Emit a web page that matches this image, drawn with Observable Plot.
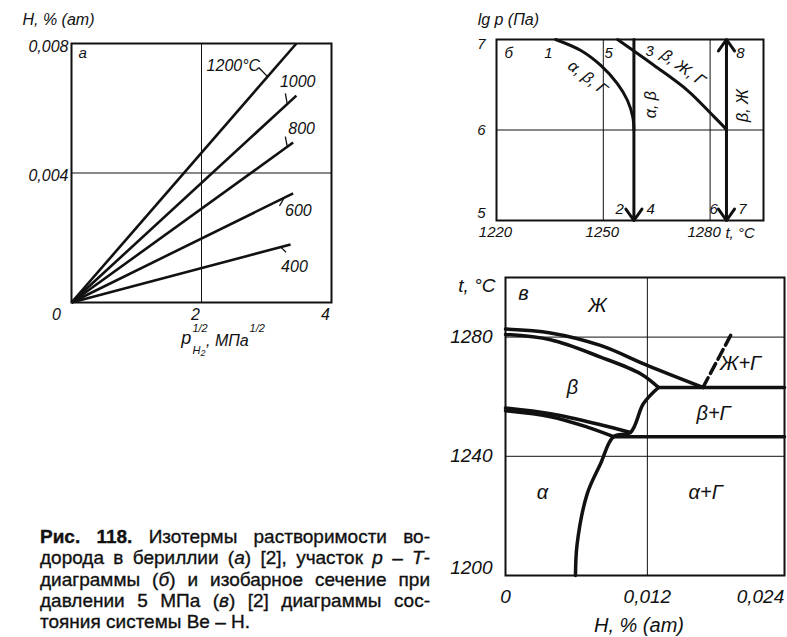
<!DOCTYPE html>
<html lang="ru">
<head>
<meta charset="utf-8">
<script src="https://cdn.jsdelivr.net/npm/d3@7"></script>
<script src="https://cdn.jsdelivr.net/npm/@observablehq/plot@0.6"></script>
<style>
html,body{margin:0;padding:0;background:#fff;}
#page{position:relative;width:787px;height:637px;overflow:hidden;background:#fff;}
.panel{position:absolute;}
.panel svg{overflow:visible;display:block;}
#caption{position:absolute;left:40px;top:526px;width:390px;font-family:"Liberation Sans",Arial,Helvetica,sans-serif;font-size:19px;line-height:21.3px;color:#111;-webkit-text-stroke:0.35px #111;}
#caption .j{text-align:justify;text-align-last:justify;white-space:nowrap;}
#caption b{font-weight:bold;}
</style>
</head>
<body>
<div id="page">
  <div class="panel" id="pa" style="left:0;top:0;"></div>
  <div class="panel" id="pb" style="left:420px;top:0;"></div>
  <div class="panel" id="pc" style="left:420px;top:250px;"></div>
  <div id="caption">
    <div class="j"><b>Рис. 118.</b> Изотермы растворимости во-</div>
    <div class="j">дорода в бериллии (<i>а</i>) [2], участок <i>р</i> – <i>Т</i>-</div>
    <div class="j">диаграммы (<i>б</i>) и изобарное сечение при</div>
    <div class="j">давлении 5 МПа (<i>в</i>) [2] диаграммы сос-</div>
    <div>тояния системы Be – H.</div>
  </div>
</div>
<script>
// ---------- Panel а: solubility isotherms ----------
const isoLabels = ["1200°C", "1000", "800", "600", "400"];
const isoEndX   = [3.46, 3.46, 3.41, 3.41, 3.37];          // p^1/2, MPa^1/2
const isoEndH   = [0.0080, 0.00639, 0.00494, 0.00337, 0.00179]; // H, % (at)
const aXTicks = [2, 4];
const aYTicks = [0.004, 0.008];

// ---------- Panel б: p–T diagram ----------
const bCurve1T = [1236.6, 1243.7, 1249.3, 1254.0, 1256.8, 1258.3, 1258.6];
const bCurve1P = [7.0, 6.878, 6.713, 6.51, 6.326, 6.141, 6.0];
const bCurve3T = [1254.0, 1264.3, 1273.7, 1280.3, 1284.0, 1284.6];
const bCurve3P = [7.0, 6.713, 6.436, 6.179, 6.03, 6.0];
const bVertT = [1258.6, 1284.6];
const bXTicks = [1220, 1250, 1280];
const bYTicks = [7, 6, 5];
const bPointNums = ["1", "5", "3", "8", "2", "4", "6", "7"];

// ---------- Panel в: isobaric section at 5 MPa ----------
const cL1H = [0, 0.00381, 0.00803, 0.01199, 0.0167];
const cL1T = [1282.7, 1281.4, 1277.2, 1270.5, 1263.1];
const cL2H = [0, 0.00381, 0.00804, 0.01142, 0.01294];
const cL2T = [1280.9, 1279.1, 1273.3, 1267.7, 1263.1];
const cM1H = [0, 0.00381, 0.00804, 0.01057];
const cM1T = [1256.2, 1254.3, 1250.6, 1248.0];
const cM2H = [0, 0.00381, 0.00692, 0.00914];
const cM2T = [1255.3, 1253.3, 1249.8, 1246.6];
const cSolvH = [0.00592, 0.00606, 0.00691, 0.00804, 0.00914, 0.01057, 0.01167, 0.01294];
const cSolvT = [1200, 1210.6, 1227.4, 1237.5, 1246.6, 1248.0, 1257.7, 1263.1];
const cUpperEutH = [0.01294, 0.0236]; const cUpperEutT = 1263.1;
const cLowerEutH = [0.00914, 0.0236]; const cLowerEutT = 1246.6;
const cDashH = [0.0167, 0.01918];
const cDashT = [1263.1, 1281.6];
const cXTicks = [0, 0.012, 0.024];
const cYTicks = [1280, 1240, 1200];
const cPhases = ["Ж", "β", "Ж+Г", "β+Г", "α", "α+Г"];

// ---------- helpers ----------
const INK = "#111";
const FONT = "'Liberation Sans', Arial, sans-serif";
const comma = d => String(d).replace(".", ",");
const plain = d => String(d);
const zip = (xs, ys) => xs.map((x, i) => [x, ys[i]]);
const st = size => ({fontFamily: FONT, fontStyle: "italic", fontSize: size + "px", background: "transparent", overflow: "visible", color: INK});

// ===== Panel а =====
const idx = d3.range(isoLabels.length);
const isoLabelPos = [[2.49, 0.00732], [3.48, 0.00683], [3.54, 0.00537], [3.49, 0.00284], [3.43, 0.00111]];
const isoLeaders = [[2.88, 0.00726, 3.02, 0.00697], [3.29, 0.00646, 3.32, 0.00613], [3.29, 0.00512, 3.32, 0.00481], [3.20, 0.00298, 3.27, 0.00323], [3.30, 0.00155, 3.22, 0.00171]];
const plotA = Plot.plot({
  width: 346, height: 360,
  marginLeft: 71, marginRight: 15, marginTop: 43, marginBottom: 58,
  x: {domain: [0, 4], label: null},
  y: {domain: [0, 0.008], label: null},
  style: st(16),
  marks: [
    Plot.ruleX([2], {stroke: INK, strokeWidth: 1}),
    Plot.ruleY([0.004], {stroke: INK, strokeWidth: 1}),
    Plot.frame({stroke: INK, strokeWidth: 2}),
    Plot.link(idx, {x1: 0, y1: 0, x2: i => isoEndX[i], y2: i => isoEndH[i], stroke: INK, strokeWidth: 2.6}),
    Plot.link(idx, {x1: i => isoLeaders[i][0], y1: i => isoLeaders[i][1], x2: i => isoLeaders[i][2], y2: i => isoLeaders[i][3], stroke: INK, strokeWidth: 1.3}),
    Plot.text(idx, {x: i => isoLabelPos[i][0], y: i => isoLabelPos[i][1], text: i => isoLabels[i], fill: INK}),
    Plot.text(["а"], {x: 0.17, y: 0.00769, text: d => d, fill: INK, fontSize: 15}),
    Plot.axisY(aYTicks, {tickSize: 0, tickPadding: 3, dy: 3, tickFormat: comma, label: null}),
    Plot.axisX([0], {tickSize: 0, tickPadding: 6, dx: -15, tickFormat: comma, label: null}),
    Plot.axisX(aXTicks, {tickSize: 0, tickPadding: 6, dx: -6, tickFormat: comma, label: null}),
    // axis titles
    Plot.text(["Н, % (ат)"], {x: -0.754, y: 0.00856, text: d => d, textAnchor: "start", lineAnchor: "bottom", fill: INK}),
    Plot.text(["p"], {x: 1.69, y: -0.00127, text: d => d, textAnchor: "start", lineAnchor: "bottom", fontSize: 18, fill: INK}),
    Plot.text(["1/2"], {x: 1.86, y: -0.00090, text: d => d, textAnchor: "start", lineAnchor: "bottom", fontSize: 11, fill: INK}),
    Plot.text(["H"], {x: 1.86, y: -0.00158, text: d => d, textAnchor: "start", lineAnchor: "bottom", fontSize: 11, fill: INK}),
    Plot.text(["2"], {x: 1.985, y: -0.00166, text: d => d, textAnchor: "start", lineAnchor: "bottom", fontSize: 9, fill: INK}),
    Plot.text([", МПа"], {x: 2.07, y: -0.00133, text: d => d, textAnchor: "start", lineAnchor: "bottom", fontSize: 16, fill: INK}),
    Plot.text(["1/2"], {x: 2.74, y: -0.00090, text: d => d, textAnchor: "start", lineAnchor: "bottom", fontSize: 11, fill: INK})
  ]
});
document.getElementById("pa").append(plotA);

// ===== Panel б =====
const bNumPos = [[1234.6, 6.85], [1251.5, 6.85], [1263.0, 6.87], [1288.5, 6.85], [1254.6, 5.13], [1263.3, 5.13], [1281.0, 5.13], [1289.1, 5.13]];
const plotB = Plot.plot({
  width: 367, height: 245,
  marginLeft: 76, marginRight: 24, marginTop: 39, marginBottom: 25,
  x: {domain: [1220, 1295], label: null},
  y: {domain: [5, 7], label: null},
  style: st(15),
  marks: [
    Plot.ruleX([1250, 1280], {stroke: INK, strokeWidth: 1}),
    Plot.ruleY([6], {stroke: INK, strokeWidth: 1}),
    Plot.frame({stroke: INK, strokeWidth: 2}),
    Plot.line(zip(bCurve1T, bCurve1P), {x: d => d[0], y: d => d[1], curve: "catmull-rom", stroke: INK, strokeWidth: 3}),
    Plot.line(zip(bCurve3T, bCurve3P), {x: d => d[0], y: d => d[1], curve: "catmull-rom", stroke: INK, strokeWidth: 3}),
    Plot.arrow([[bVertT[0], 7, 5], [bVertT[1], 6, 5], [bVertT[1], 6, 7]], {x1: d => d[0], y1: d => d[1], x2: d => d[0], y2: d => d[2], stroke: INK, strokeWidth: 3, headLength: 7, headAngle: 70}),
    Plot.text(bPointNums, {x: (d, i) => bNumPos[i][0], y: (d, i) => bNumPos[i][1], text: d => d, fill: INK}),
    Plot.text(["б"], {x: 1223.4, y: 6.845, text: d => d, fill: INK}),
    Plot.text(["α, β, Г"], {x: 1245.6, y: 6.58, text: d => d, rotate: 38, fill: INK, fontSize: 16}),
    Plot.text(["α, β"], {x: 1263.3, y: 6.28, text: d => d, rotate: -90, fill: INK, fontSize: 16}),
    Plot.text(["β, Ж, Г"], {x: 1272.4, y: 6.69, text: d => d, rotate: 36, fill: INK, fontSize: 16}),
    Plot.text(["β, Ж"], {x: 1289.1, y: 6.27, text: d => d, rotate: -90, fill: INK, fontSize: 16}),
    Plot.axisY(bYTicks.slice(0, 1), {tickSize: 0, tickPadding: 11, dy: 5, tickFormat: plain, label: null}),
    Plot.axisY(bYTicks.slice(1, 2), {tickSize: 0, tickPadding: 11, tickFormat: plain, label: null}),
    Plot.axisY(bYTicks.slice(2), {tickSize: 0, tickPadding: 11, dy: -7, tickFormat: plain, label: null}),
    Plot.axisX(bXTicks.slice(0, 2), {tickSize: 0, tickPadding: 6, dx: -1, tickFormat: plain, label: null}),
    Plot.axisX(bXTicks.slice(2), {tickSize: 0, tickPadding: 6, dx: -6, tickFormat: plain, label: null}),
    Plot.text(["t, °C"], {x: 1284.3, y: 4.812, text: d => d, textAnchor: "start", lineAnchor: "bottom", fill: INK}),
    Plot.text(["lg p (Па)"], {x: 1214.7, y: 7.155, text: d => d, textAnchor: "start", lineAnchor: "bottom", fill: INK, fontSize: 16})
  ]
});
document.getElementById("pb").append(plotB);

// ===== Panel в =====
const cPhasePos = [[0.00778, 1290.6], [0.00567, 1263.1], [0.01988, 1271.1], [0.01759, 1254.4], [0.00313, 1227.9], [0.01692, 1227.9]];
const plotC = Plot.plot({
  width: 367, height: 387,
  marginLeft: 85, marginRight: 3, marginTop: 27, marginBottom: 62,
  x: {domain: [0, 0.0236], label: null, axis: null},
  y: {domain: [1200, 1300], label: null},
  style: st(19),
  marks: [
    Plot.ruleX([0.012], {stroke: INK, strokeWidth: 1}),
    Plot.ruleY([1280, 1240], {stroke: INK, strokeWidth: 1}),
    Plot.frame({stroke: INK, strokeWidth: 2}),
    Plot.line(zip(cL1H, cL1T), {x: d => d[0], y: d => d[1], curve: "catmull-rom", stroke: INK, strokeWidth: 3.5}),
    Plot.line(zip(cL2H, cL2T), {x: d => d[0], y: d => d[1], curve: "catmull-rom", stroke: INK, strokeWidth: 3.5}),
    Plot.line(zip(cM1H, cM1T), {x: d => d[0], y: d => d[1], curve: "catmull-rom", stroke: INK, strokeWidth: 3.5}),
    Plot.line(zip(cM2H, cM2T), {x: d => d[0], y: d => d[1], curve: "catmull-rom", stroke: INK, strokeWidth: 3.5}),
    Plot.line(zip(cSolvH, cSolvT), {x: d => d[0], y: d => d[1], curve: "catmull-rom", stroke: INK, strokeWidth: 3.5}),
    Plot.line(cUpperEutH, {x: d => d, y: cUpperEutT, stroke: INK, strokeWidth: 3.5}),
    Plot.line(cLowerEutH, {x: d => d, y: cLowerEutT, stroke: INK, strokeWidth: 3.5}),
    Plot.line(zip(cDashH, cDashT), {x: d => d[0], y: d => d[1], stroke: INK, strokeWidth: 3.5, strokeDasharray: "11,5"}),
    Plot.text(cPhases, {x: (d, i) => cPhasePos[i][0], y: (d, i) => cPhasePos[i][1], text: d => d, fill: INK, fontSize: 20}),
    Plot.text(["в"], {x: 0.00152, y: 1294.6, text: d => d, fill: INK, fontSize: 20}),
    Plot.axisY(cYTicks.slice(0, 2), {tickSize: 0, tickPadding: 13, tickFormat: plain, label: null}),
    Plot.axisY(cYTicks.slice(2), {tickSize: 0, tickPadding: 13, dy: -8, tickFormat: plain, label: null}),
    Plot.text(cXTicks.slice(0, 2), {x: d => d, y: 1200, text: comma, lineAnchor: "top", dy: 14, fill: INK}),
    Plot.text(cXTicks.slice(2), {x: d => d, y: 1200, text: comma, lineAnchor: "top", textAnchor: "end", dy: 14, dx: -5, fill: INK}),
    Plot.text(["t, °C"], {x: -0.00085, y: 1295.3, text: d => d, textAnchor: "end", lineAnchor: "bottom", fill: INK}),
    Plot.text(["Н, % (ат)"], {x: 0.01129, y: 1181.2, text: d => d, lineAnchor: "bottom", fill: INK, fontSize: 20})
  ]
});
document.getElementById("pc").append(plotC);
</script>
</body>
</html>
